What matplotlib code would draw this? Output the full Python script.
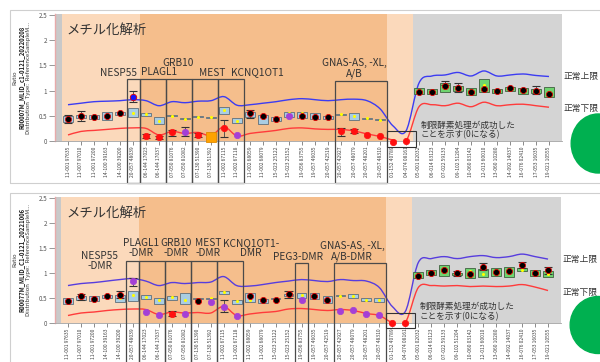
import numpy as np
import matplotlib
matplotlib.use("Agg")
import matplotlib.pyplot as plt
import matplotlib.transforms as mtransforms
from matplotlib.patches import Rectangle, Ellipse, PathPatch
from matplotlib.path import Path

plt.rcParams["font.family"] = ["Noto Sans CJK JP", "DejaVu Sans"]

nan = np.nan

# probe names on the x axis (38 probes)
probes = ["11-001 97635", "11-007 97010", "11-001 97200", "14-100 39163", "14-100 39200",
          "20-057 48039", "06-144 17023", "06-144 17037", "07-050 81076", "07-050 81082",
          "07-130 51390", "07-130 51392", "11-002 67115", "11-002 67118", "11-002 68059",
          "11-002 68079", "15-023 25122", "15-023 25152", "19-056 83755", "19-057 46035",
          "20-057 42519", "20-057 42927", "20-057 48079", "20-057 48201", "20-057 48310",
          "01-152 40789", "04-074 08161", "05-001 02032", "06-014 63123", "07-022 59133",
          "09-102 51204", "10-060 03142", "12-013 60010", "13-060 10280", "14-092 14037",
          "16-076 02410", "17-053 16035", "19-021 10555"]

# ---- upper sample ----
t_box_lo = [0.37, 0.46, 0.44, 0.42, 0.52, 0.48, 0.49, 0.34, 0.49, 0.43, 0.47, 0.46, 0.54, 0.36,
            0.48, 0.34, 0.40, 0.48, 0.45, 0.43, 0.44, 0.52, 0.42, 0.44, 0.41, nan, nan,
            0.93, 0.94, 0.98, 0.99, 0.91, 0.98, 0.95, 1.00, 0.94, 0.95, 0.87]
t_box_hi = [0.50, 0.52, 0.51, 0.58, 0.58, 0.65, 0.56, 0.47, 0.51, 0.45, 0.49, 0.48, 0.68, 0.45,
            0.58, 0.52, 0.47, 0.58, 0.58, 0.56, 0.50, 0.54, 0.55, 0.46, 0.43, nan, nan,
            1.05, 1.03, 1.15, 1.09, 1.05, 1.23, 1.04, 1.08, 1.06, 1.04, 1.07]
t_med = [0.45, 0.50, 0.48, 0.50, 0.55, 0.56, 0.53, 0.40, 0.50, 0.44, 0.48, 0.47, 0.61, 0.40,
         0.53, 0.45, 0.43, 0.55, 0.55, 0.50, 0.47, 0.53, 0.50, 0.45, 0.42, nan, nan,
         1.00, 0.99, 1.12, 1.05, 0.99, 1.12, 1.00, 1.05, 1.01, 1.00, 0.98]
t_val = [0.43, 0.50, 0.47, 0.50, 0.55, 0.88, 0.10, 0.07, 0.17, 0.17, 0.12, 0.08, 0.25, 0.12,
         0.55, 0.50, 0.43, 0.50, 0.50, 0.48, 0.47, 0.19, 0.19, 0.12, 0.10, -0.01, 0.0,
         0.98, 0.98, 1.10, 1.06, 0.98, 1.03, 0.99, 1.05, 1.01, 1.00, 0.93]
t_kind = list("kkkkkbrrrprorpkkkpkkkrrrrrrkkkkkkkkkkk")
t_wlo = [0.36, 0.40, nan, nan, nan, 0.78, 0.05, 0.04, 0.10, 0.09, 0.08, nan, 0.07, nan,
         0.45, nan, nan, nan, nan, nan, nan, 0.09, 0.15, nan, nan, nan, nan,
         nan, nan, 1.12, 0.97, nan, nan, nan, nan, nan, 0.93, nan]
t_whi = [0.52, 0.60, nan, nan, nan, 0.99, 0.14, 0.10, 0.22, 0.28, 0.15, nan, 0.42, nan,
         0.62, nan, nan, nan, nan, nan, nan, 0.25, 0.23, nan, nan, nan, nan,
         nan, nan, 1.19, 1.15, nan, nan, nan, nan, nan, 1.10, nan]
t_upper = [0.72, 0.75, 0.78, 0.79, 0.80, 0.82, 0.80, 0.70, 0.78, 0.76, 0.79, 0.80, 0.88, 0.71,
           0.72, 0.75, 0.78, 0.82, 0.84, 0.82, 0.80, 0.82, 0.83, 0.80, 0.64, 0.30, 0.20,
           1.15, 1.29, 1.31, 1.36, 1.29, 1.39, 1.29, 1.31, 1.33, 1.30, 1.28]
t_lower = [0.12, 0.19, 0.21, 0.23, 0.25, 0.26, 0.25, 0.12, 0.19, 0.15, 0.17, 0.11, 0.28, 0.10,
           0.15, 0.18, 0.21, 0.25, 0.26, 0.24, 0.23, 0.23, 0.20, 0.14, 0.09, 0.02, 0.0,
           0.68, 0.72, 0.70, 0.75, 0.68, 0.77, 0.70, 0.72, 0.73, 0.70, 0.67]

# ---- lower sample ----
b_box_lo = [0.38, 0.46, 0.43, 0.50, 0.41, 0.43, 0.47, 0.38, 0.46, 0.38, 0.47, 0.48, 0.57, 0.38,
            0.41, 0.39, 0.47, 0.53, 0.49, 0.47, 0.39, 0.53, 0.49, 0.43, 0.41, nan, nan,
            0.90, 0.95, 0.93, 0.96, 0.90, 0.92, 0.93, 0.92, 1.03, 0.93, 0.92]
b_box_hi = [0.49, 0.53, 0.54, 0.56, 0.56, 0.63, 0.56, 0.49, 0.54, 0.59, 0.50, 0.50, 0.64, 0.46,
            0.59, 0.48, 0.49, 0.58, 0.59, 0.59, 0.54, 0.55, 0.57, 0.49, 0.49, nan, nan,
            1.01, 1.05, 1.15, 1.00, 1.10, 1.07, 1.10, 1.12, 1.10, 1.05, 1.03]
b_med = [0.44, 0.50, 0.50, 0.53, 0.50, 0.56, 0.51, 0.45, 0.51, 0.46, 0.48, 0.49, 0.61, 0.43,
         0.46, 0.44, 0.48, 0.56, 0.56, 0.53, 0.47, 0.54, 0.54, 0.46, 0.45, nan, nan,
         0.96, 1.00, 1.08, 0.98, 1.03, 0.98, 1.02, 1.03, 1.05, 1.00, 0.98]
b_val = [0.43, 0.53, 0.47, 0.54, 0.56, 0.83, 0.22, 0.16, 0.18, 0.18, 0.43, 0.41, 0.32, 0.14,
         0.53, 0.45, 0.45, 0.57, 0.45, 0.54, 0.45, 0.24, 0.26, 0.18, 0.16, -0.01, -0.01,
         0.93, 1.00, 1.05, 0.99, 0.97, 1.12, 1.01, 1.03, 1.15, 0.99, 1.05]
b_kind = list("kkkkkppprpkpppkkkkpkkpppprrkkkkkkkkkkk")
b_wlo = [nan, 0.46, nan, nan, 0.50, 0.73, nan, nan, 0.14, nan, nan, nan, 0.22, nan,
         nan, nan, nan, 0.50, nan, nan, nan, nan, nan, nan, nan, nan, nan,
         nan, nan, nan, 0.93, nan, 1.05, nan, nan, 1.10, nan, 0.98]
b_whi = [nan, 0.58, nan, nan, 0.63, 0.90, nan, nan, 0.24, nan, nan, nan, 0.45, nan,
         nan, nan, nan, 0.63, nan, nan, nan, nan, nan, nan, nan, nan, nan,
         nan, nan, nan, 1.03, nan, 1.20, nan, nan, 1.22, nan, 1.12]
b_upper = [0.74, 0.78, 0.80, 0.83, 0.86, 0.88, 0.83, 0.74, 0.80, 0.78, 0.80, 0.81, 0.92, 0.74,
           0.73, 0.76, 0.80, 0.83, 0.86, 0.84, 0.82, 0.86, 0.84, 0.83, 0.70, 0.32, 0.22,
           1.20, 1.28, 1.32, 1.28, 1.32, 1.34, 1.30, 1.32, 1.37, 1.32, 1.27]
b_lower = [0.14, 0.19, 0.21, 0.24, 0.26, 0.27, 0.26, 0.16, 0.21, 0.19, 0.20, 0.19, 0.32, 0.14,
           0.17, 0.20, 0.22, 0.27, 0.28, 0.26, 0.24, 0.26, 0.24, 0.18, 0.14, 0.0, 0.0,
           0.70, 0.74, 0.73, 0.74, 0.72, 0.73, 0.72, 0.73, 0.76, 0.71, 0.64]

# gene regions (probe span) and label texts
t_regions = [(4.5, 5.5), (5.5, 7.5), (7.5, 9.5), (9.5, 11.5), (11.5, 13.5), (20.5, 24.5)]
t_genes = ["NESP55", "PLAGL1", "GRB10", "MEST", "KCNQ1OT1", "GNAS-AS, -XL,\nA/B"]
b_regions = [(4.5, 5.5), (5.5, 7.5), (7.5, 9.5), (9.5, 11.5), (11.5, 13.5), (17.5, 18.5), (20.5, 24.5)]
b_genes = ["NESP55\n-DMR", "PLAGL1\n-DMR", "GRB10\n-DMR", "MEST\n-DMR", "KCNQ1OT1-\nDMR",
           "PEG3-DMR", "GNAS-AS, -XL,\nA/B-DMR"]

ORANGE_L = "#FBD9BB"
ORANGE_D = "#F5BE8C"
GRAY = "#D4D4D4"

fig = plt.figure(figsize=(6, 3.62), dpi=100)


def smooth_path(xs, ys):
    pts = np.column_stack([xs, ys]).astype(float)
    ext = np.vstack([pts[0], pts, pts[-1]])
    verts = [pts[0]]
    codes = [Path.MOVETO]
    for i in range(len(pts) - 1):
        p0, p1, p2, p3 = ext[i], ext[i + 1], ext[i + 2], ext[i + 3]
        verts += [p1 + (p2 - p0) / 6, p2 - (p3 - p1) / 6, p2]
        codes += [Path.CURVE4] * 3
    return Path(verts, codes)


def panel(rect, box_lo, box_hi, med, val, kind, wlo, whi, upper, lower,
          regions, reg_tops, genes, gene_pos, frame, blue, label_clip, ylab2):
    ax = fig.add_axes(rect)
    n = len(probes)
    x = np.arange(n)
    ax.set_xlim(-1, n)
    ax.set_ylim(0, 2.52)

    # zones
    ax.axvspan(-1, -0.5, color="#C9C9C9", lw=0, zorder=0)
    ax.axvspan(-0.5, 5.5, color=ORANGE_L, lw=0, zorder=0)
    ax.axvspan(5.5, 24.5, color=ORANGE_D, lw=0, zorder=0)
    ax.axvspan(24.5, 26.5, color=ORANGE_L, lw=0, zorder=0)
    ax.axvspan(26.5, n, color=GRAY, lw=0, zorder=0)

    # normal limits
    ax.add_patch(PathPatch(smooth_path(x, upper), fill=False, ec=blue, lw=1.0, zorder=2))
    ax.add_patch(PathPatch(smooth_path(x, lower), fill=False, ec="#FF3B3B", lw=1.0, zorder=2))

    # reference boxes
    for i in range(n):
        if np.isnan(box_lo[i]):
            continue
        green = i > 26
        ax.add_patch(Rectangle((i - 0.38, box_lo[i]), 0.76, box_hi[i] - box_lo[i],
                               fc="#6FD46F" if green else "#A9CDE2",
                               ec="#3F5F3F" if green else "#5F6E7A", lw=0.6, zorder=3))
    ax.vlines(x, wlo, whi, color="#444444", lw=0.6, zorder=3.5)
    ax.hlines(wlo, x - 0.32, x + 0.32, color="#333333", lw=0.8, zorder=3.5)
    ax.hlines(whi, x - 0.32, x + 0.32, color="#333333", lw=0.8, zorder=3.5)
    ax.plot(x, med, ls="none", marker="o", ms=2.2, mfc="#FFFF00", mec="none", zorder=4)

    # sample values
    val = np.asarray(val)
    kind = np.asarray(kind)
    styles = {"k": dict(marker="o", mfc="black", mec="#E00000", ms=4.4, mew=0.6),
              "r": dict(marker="o", mfc="#FF1010", mec="#FF1010", ms=4.6, mew=0.5),
              "p": dict(marker="o", mfc="#A43FD6", mec="#A43FD6", ms=4.6, mew=0.5),
              "b": dict(marker="o", mfc="#1515FF", mec="#E00000", ms=4.6, mew=0.6),
              "o": dict(marker="s", mfc="#FFA200", mec="#E08A00", ms=7, mew=0.6)}
    for k, st in styles.items():
        m = kind == k
        if m.any():
            ax.plot(x[m], val[m], ls="none", zorder=5, clip_on=False, **st)

    # gene regions
    for (a, b), top in zip(regions, reg_tops):
        ax.add_patch(Rectangle((a, -0.83), b - a, top + 0.83, fill=False, ec="#4A4A4A",
                               lw=0.9, zorder=6, clip_on=False))
    for g, (gx, gy) in zip(genes, gene_pos):
        ax.text(gx, gy, g, ha="center", va="center", fontsize=7.3, color="#333333",
                linespacing=1.0, zorder=7, clip_on=False)
    ax.add_patch(Rectangle((24.5, -0.12), 2.25, 0.31, fill=False, ec="#333333", lw=0.8,
                           zorder=6, clip_on=False))

    ax.text(-0.1, 2.2, "メチル化解析", fontsize=9.6, color="#333333", va="center", zorder=7)
    ax.text(27.1, 0.22, "制限酵素処理が成功した\nことを示す(0になる)", fontsize=6.2,
            color="#333333", va="center", linespacing=1.15, zorder=7)
    ax.text(38.1, upper[-1], "正常上限", fontsize=6.3, color="#333333", va="center",
            clip_on=False)
    ax.text(38.1, lower[-1] - 0.03, "正常下限", fontsize=6.3, color="#333333", va="center",
            clip_on=False)

    # axes styling
    for s in ("top", "right"):
        ax.spines[s].set_visible(False)
    ax.spines["left"].set_color("#E7AAAA")
    ax.spines["left"].set_linewidth(1.0)
    ax.spines["bottom"].set_color("#A0A0A0")
    ax.spines["bottom"].set_linewidth(0.6)
    ax.set_yticks([0, 0.5, 1, 1.5, 2, 2.5])
    ax.set_yticklabels(["0", "0.5", "1", "1.5", "2", "2.5"])
    ax.tick_params(axis="y", labelsize=4.5, labelcolor="#555555", color="#888888",
                   length=4, width=0.6, pad=1.5)
    ax.set_xticks(x)
    ax.tick_params(axis="x", labelbottom=False, color="#777777", length=3, width=0.6)

    # probe names, clipped by the screenshot frame
    clip = mtransforms.TransformedBbox(
        mtransforms.Bbox.from_extents(0, label_clip, 1, 1), fig.transFigure)
    trans = mtransforms.blended_transform_factory(ax.transData, ax.transAxes)
    for i, s in enumerate(probes):
        t = ax.text(i, -0.045, s, transform=trans, rotation=90, ha="center", va="top",
                    fontsize=3.6, color="#444444", clip_on=True)
        t.set_clip_box(clip)

    # y label (three lines)
    pos = ax.get_position()
    yc = (pos.y0 + pos.y1) / 2
    fig.text(15 / 600, yc, "Ratio", rotation=90, ha="center", va="center", fontsize=4.3,
             color="#333333")
    fig.text(21.5 / 600, yc, ylab2, rotation=90, ha="center", va="center", fontsize=4.3,
             color="#222222", weight="bold")
    fig.text(28.5 / 600, yc, "Distribution  Type:  ReferenceSampleM...", rotation=90,
             ha="center", va="center", fontsize=4.3, color="#333333")

    # screenshot frame
    fig.add_artist(Rectangle((frame[0], frame[1]), frame[2], frame[3],
                             transform=fig.transFigure, fill=False, ec="#CFCFCF", lw=0.8))
    return ax


panel([55 / 600, 1 - 141 / 362, 507 / 600, 127 / 362],
      t_box_lo, t_box_hi, t_med, t_val, t_kind, t_wlo, t_whi, t_upper, t_lower,
      t_regions, [1.23, 1.23, 1.23, 1.23, 1.23, 1.19], t_genes,
      [(3.9, 1.35), (7.0, 1.37), (8.5, 1.55), (11.1, 1.35), (14.6, 1.37), (22.0, 1.44)],
      (10 / 600, 1 - 183 / 362, 1.0, 173 / 362), "#3C3CF2", 1 - 183 / 362,
      "R00007M_MLID_c1-0121_20220208")

panel([55 / 600, 1 - 322.5 / 362, 506 / 600, 125.8 / 362],
      b_box_lo, b_box_hi, b_med, b_val, b_kind, b_wlo, b_whi, b_upper, b_lower,
      b_regions, [1.24, 1.24, 1.24, 1.24, 1.24, 1.19, 1.19], b_genes,
      [(2.45, 1.24), (5.6, 1.50), (8.3, 1.50), (10.8, 1.50), (14.1, 1.49), (17.7, 1.32),
       (21.9, 1.42)],
      (10 / 600, -0.1, 1.0, 1 - 193 / 362 + 0.1), "#573DDE", 0.0,
      "R00077M_MLID_C1-0121_20221006")

# green marks at the right edge
fig.add_artist(Ellipse((0.997, 1 - 143.5 / 362), 54 / 600, 59 / 362,
                       transform=fig.transFigure, color="#00B050"))
fig.add_artist(Ellipse((0.997, 1 - 325 / 362), 56 / 600, 57 / 362,
                       transform=fig.transFigure, color="#00B050"))

fig.savefig("out.png", dpi=100)
